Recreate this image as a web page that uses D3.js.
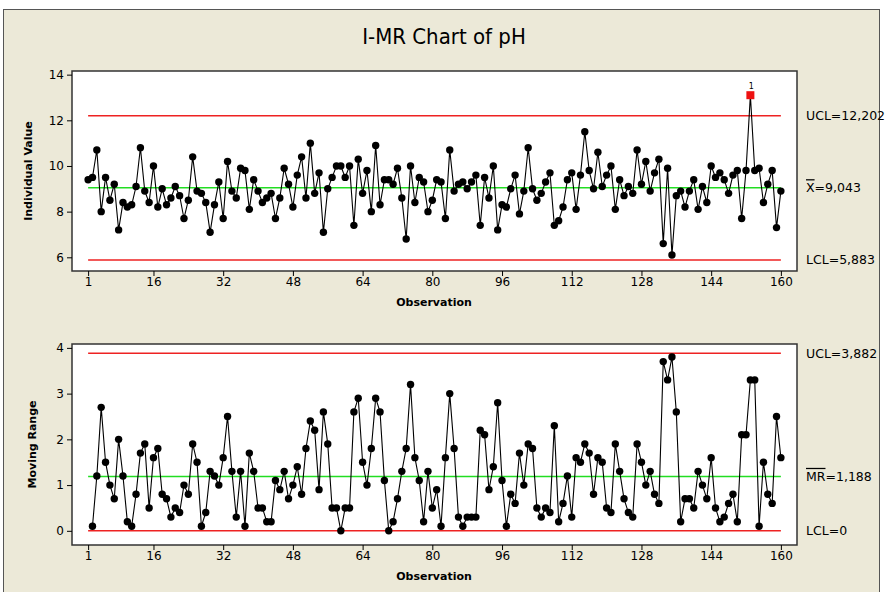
<!DOCTYPE html>
<html>
<head>
<meta charset="utf-8">
<script src="https://cdn.jsdelivr.net/npm/d3@7"></script>
<style>
body { margin: 0; background: #fff; }
text { font-family: "DejaVu Sans", Tahoma, sans-serif; }
</style>
</head>
<body>
<div id="chart"></div>
<script>
const individual = [
  9.4, 9.5, 10.7, 8.0, 9.5, 8.5, 9.2, 7.2, 8.4, 8.2,
  8.3, 9.1, 10.8, 8.9, 8.4, 10.0, 8.2, 9.0, 8.3, 8.6,
  9.1, 8.7, 7.7, 8.5, 10.4, 8.9, 8.8, 8.4, 7.1, 8.3,
  9.3, 7.7, 10.2, 8.9, 8.6, 9.9, 9.8, 8.1, 9.4, 8.9,
  8.4, 8.6, 8.8, 7.7, 8.6, 9.9, 9.2, 8.2, 9.6, 10.4,
  8.6, 11.0, 8.8, 9.7, 7.1, 9.0, 9.5, 10.0, 10.0, 9.5,
  10.0, 7.4, 10.3, 8.8, 9.8, 8.0, 10.9, 8.3, 9.4, 9.4,
  9.2, 9.9, 8.6, 6.8, 10.0, 8.4, 9.5, 9.3, 8.0, 8.5,
  9.4, 9.3, 7.7, 10.7, 8.9, 9.2, 9.3, 9.0, 9.3, 9.6,
  7.4, 9.5, 8.6, 10.0, 7.2, 8.3, 8.2, 9.0, 9.6, 7.9,
  8.9, 10.8, 9.0, 8.5, 8.8, 9.3, 9.7, 7.4, 7.6, 8.2,
  9.4, 9.7, 8.1, 9.6, 11.5, 9.8, 9.0, 10.6, 9.1, 9.6,
  10.0, 8.1, 9.4, 8.7, 9.1, 8.8, 10.7, 9.2, 10.2, 8.9,
  9.7, 10.3, 6.6, 9.9, 6.1, 8.7, 8.9, 8.2, 8.9, 9.4,
  8.1, 9.1, 8.4, 10.0, 9.5, 9.7, 9.4, 8.8, 9.6, 9.8,
  7.7, 9.8, 13.1, 9.8, 9.9, 8.4, 9.2, 9.8, 7.3, 8.9
]

// moving ranges, observations 2..160
const movingRange = [
  0.1, 1.2, 2.7, 1.5, 1.0, 0.7, 2.0, 1.2, 0.2,
  0.1, 0.8, 1.7, 1.9, 0.5, 1.6, 1.8, 0.8, 0.7, 0.3,
  0.5, 0.4, 1.0, 0.8, 1.9, 1.5, 0.1, 0.4, 1.3, 1.2,
  1.0, 1.6, 2.5, 1.3, 0.3, 1.3, 0.1, 1.7, 1.3, 0.5,
  0.5, 0.2, 0.2, 1.1, 0.9, 1.3, 0.7, 1.0, 1.4, 0.8,
  1.8, 2.4, 2.2, 0.9, 2.6, 1.9, 0.5, 0.5, 0.0, 0.5,
  0.5, 2.6, 2.9, 1.5, 1.0, 1.8, 2.9, 2.6, 1.1, 0.0,
  0.2, 0.7, 1.3, 1.8, 3.2, 1.6, 1.1, 0.2, 1.3, 0.5,
  0.9, 0.1, 1.6, 3.0, 1.8, 0.3, 0.1, 0.3, 0.3, 0.3,
  2.2, 2.1, 0.9, 1.4, 2.8, 1.1, 0.1, 0.8, 0.6, 1.7,
  1.0, 1.9, 1.8, 0.5, 0.3, 0.5, 0.4, 2.3, 0.2, 0.6,
  1.2, 0.3, 1.6, 1.5, 1.9, 1.7, 0.8, 1.6, 1.5, 0.5,
  0.4, 1.9, 1.3, 0.7, 0.4, 0.3, 1.9, 1.5, 1.0, 1.3,
  0.8, 0.6, 3.7, 3.3, 3.8, 2.6, 0.2, 0.7, 0.7, 0.5,
  1.3, 1.0, 0.7, 1.6, 0.5, 0.2, 0.3, 0.6, 0.8, 0.2,
  2.1, 2.1, 3.3, 3.3, 0.1, 1.5, 0.8, 0.6, 2.5, 1.6
]

const obsTicks = [1, 16, 32, 48, 64, 80, 96, 112, 128, 144, 160]
const iTicks = [6, 8, 10, 12, 14]
const mrTicks = [0, 1, 2, 3, 4]

// control limits: UCL, centre, LCL
const iLimits = [12.202, 9.043, 5.883]
const iLimitText = ["UCL=12,202", "=9,043", "LCL=5,883"]
const mrLimits = [3.882, 1.188, 0]
const mrLimitText = ["UCL=3,882", "=1,188", "LCL=0"]

let width = 885
let height = 592

let svg = d3.select("#chart").append("svg")
    .attr("width", width)
    .attr("height", height)

// grey window background
svg.append("rect")
    .attr("x", 3.5).attr("y", 9.5)
    .attr("width", 876).attr("height", 600)
    .attr("fill", "#ECE9D8")
    .attr("stroke", "#555")

svg.append("text")
    .attr("x", 444).attr("y", 44)
    .attr("text-anchor", "middle")
    .style("font-family", "'DejaVu Sans Condensed', 'Liberation Sans Narrow', sans-serif")
    .style("font-size", "22px")
    .text("I-MR Chart of pH")

let x = d3.scaleLinear().domain([-2.7, 163.7]).range([72, 797])

function drawPanel(opts) {
    let y = d3.scaleLinear().domain(opts.domain).range([opts.bottom, opts.top])
    let g = svg.append("g")

    g.append("rect")
        .attr("x", 72).attr("y", opts.top)
        .attr("width", 797 - 72).attr("height", opts.bottom - opts.top)
        .attr("fill", "#fff")
        .attr("stroke", "#333")
        .attr("stroke-width", 1.5)

    // axes
    g.append("g")
        .attr("transform", "translate(72,0)")
        .call(d3.axisLeft(y).tickValues(opts.ticks).tickFormat(d3.format("d")).tickSize(5).tickSizeOuter(0))
        .call(a => a.select(".domain").remove())
        .call(a => a.selectAll("text").style("font-size", "12px").attr("fill", "#000"))

    g.append("g")
        .attr("transform", "translate(0," + opts.bottom + ")")
        .call(d3.axisBottom(x).tickValues(obsTicks).tickSize(5).tickSizeOuter(0))
        .call(a => a.select(".domain").remove())
        .call(a => a.selectAll("text").style("font-size", "12px").attr("fill", "#000").attr("dy", "0.55em"))

    g.append("text")
        .attr("x", 434).attr("y", opts.bottom + 35)
        .attr("text-anchor", "middle")
        .style("font-size", "11px").style("font-weight", "bold")
        .text("Observation")

    g.append("text")
        .attr("transform", "translate(" + opts.titleX + "," + (opts.top + opts.bottom) / 2 + ") rotate(-90)")
        .attr("text-anchor", "middle")
        .style("font-size", "11px").style("font-weight", "bold")
        .text(opts.title)

    // limit lines
    g.selectAll(".lim")
        .data(opts.limits)
        .enter().append("line")
        .attr("x1", x(1)).attr("x2", x(160))
        .attr("y1", d => y(d)).attr("y2", d => y(d))
        .attr("stroke", (d, i) => i == 1 ? "#22dd22" : "#ee2222")
        .attr("stroke-width", 1.5)

    let lab = g.selectAll(".limlab")
        .data(opts.limits)
        .enter().append("text")
        .attr("x", 806)
        .attr("y", d => y(d))
        .attr("dy", "0.35em")
        .style("font-size", "12.5px")
    lab.each(function (d, i) {
        let t = d3.select(this)
        if (i == 1) {
            t.append("tspan").attr("text-decoration", "overline").text(opts.centreSym)
        }
        t.append("tspan").text(opts.limitText[i])
    })

    // series
    let pts = opts.values.map((v, i) => ({obs: i + opts.start, v: v}))
    g.append("path")
        .datum(pts)
        .attr("fill", "none")
        .attr("stroke", "#000")
        .attr("stroke-width", 1.1)
        .attr("d", d3.line().x(d => x(d.obs)).y(d => y(d.v)))

    let ucl = opts.limits[0], lcl = opts.limits[2]
    g.selectAll(".dot")
        .data(pts.filter(d => d.v <= ucl && d.v >= lcl))
        .enter().append("circle")
        .attr("cx", d => x(d.obs)).attr("cy", d => y(d.v))
        .attr("r", 3.7)
        .attr("fill", "#000")

    let bad = pts.filter(d => d.v > ucl || d.v < lcl)
    g.selectAll(".bad")
        .data(bad)
        .enter().append("rect")
        .attr("x", d => x(d.obs) - 4).attr("y", d => y(d.v) - 4)
        .attr("width", 8).attr("height", 8)
        .attr("fill", "#ee1111")
    g.selectAll(".badlab")
        .data(bad)
        .enter().append("text")
        .attr("x", d => x(d.obs) + 1).attr("y", d => y(d.v) - 6)
        .attr("text-anchor", "middle")
        .style("font-size", "8px")
        .text("1")
}

drawPanel({
    values: individual, start: 1,
    domain: [5.40, 14.16], top: 71, bottom: 271,
    ticks: iTicks, limits: iLimits, limitText: iLimitText, centreSym: "X",
    title: "Individual Value", titleX: 32
})

drawPanel({
    values: movingRange, start: 2,
    domain: [-0.31, 4.085], top: 344, bottom: 545,
    ticks: mrTicks, limits: mrLimits, limitText: mrLimitText, centreSym: "MR",
    title: "Moving Range", titleX: 36
})
</script>
</body>
</html>
